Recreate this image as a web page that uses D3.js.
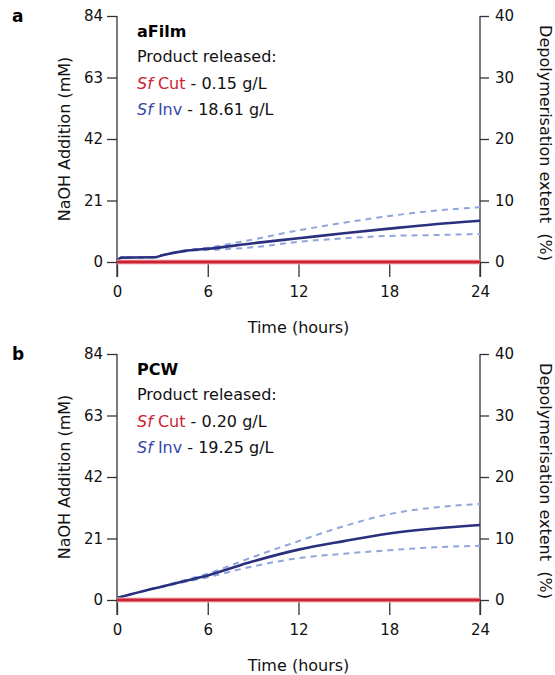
<!DOCTYPE html>
<html>
<head>
<meta charset="utf-8">
<script src="https://cdn.jsdelivr.net/npm/d3@7"></script>
<style>
  body { margin: 0; background: #fff; }
  text { font-family: "DejaVu Sans", Verdana, sans-serif; }
</style>
</head>
<body>
<svg id="chart" width="555" height="675"></svg>
<script>
// hours
var hours = [0, 0.3, 2.5, 3, 4.5, 6, 9, 12, 15, 18, 21, 24];

// aFilm, NaOH addition (mM)
var filmMean  = [0.4, 1.5, 1.6, 2.3, 3.8, 4.5, 6.4, 8.1, 9.8, 11.4, 12.9, 14.1];
var filmUpper = [0.4, 1.5, 1.6, 2.3, 3.9, 4.9, 7.7, 10.8, 13.4, 15.7, 17.5, 18.7];
var filmLower = [0.4, 1.5, 1.6, 2.3, 3.7, 4.1, 5.0, 6.9, 8.1, 8.9, 9.2, 9.6];

// PCW, NaOH addition (mM)
var pcwMean  = [0.7, 1.1, 4.0, 4.6, 6.5, 8.4, 13.2, 17.2, 20.1, 22.7, 24.4, 25.6];
var pcwUpper = [0.7, 1.1, 4.0, 4.7, 6.8, 9.0, 14.7, 20.1, 25.2, 29.3, 31.6, 32.8];
var pcwLower = [0.7, 1.1, 4.0, 4.5, 6.2, 7.8, 11.5, 14.3, 15.8, 17.0, 18.0, 18.5];

// Sf Cut released nothing measurable
var cutZero = hours.map(function () { return 0; });

var leftTicks = [0, 21, 42, 63, 84];
var rightTicks = [0, 10, 20, 30, 40];
var xTicks = [0, 6, 12, 18, 24];

var panels = [
  { letter: "a", name: "aFilm", cut: "0.15", inv: "18.61", top: 16,
    mean: filmMean, upper: filmUpper, lower: filmLower },
  { letter: "b", name: "PCW", cut: "0.20", inv: "19.25", top: 354,
    mean: pcwMean, upper: pcwUpper, lower: pcwLower }
];

var navy = "#2a2f7e", lightBlue = "#8ea6db", red = "#cc2233";
var left = 117, right = 480, h = 246;

var svg = d3.select("#chart");

var x = d3.scaleLinear().domain([0, 24]).range([left, right]);

panels.forEach(function (p) {
  var y = d3.scaleLinear().domain([0, 84]).range([p.top + h, p.top]);
  var yr = d3.scaleLinear().domain([0, 40]).range([p.top + h, p.top]);
  var g = svg.append("g");

  // x axis
  var xa = g.append("g")
    .attr("transform", "translate(0," + (p.top + h) + ")")
    .call(d3.axisBottom(x).tickValues(xTicks).tickSize(15).tickPadding(9));
  // left axis
  var ya = g.append("g")
    .attr("transform", "translate(" + left + ",0)")
    .call(d3.axisLeft(y).tickValues(leftTicks).tickSize(10).tickPadding(4));
  // right axis
  var yra = g.append("g")
    .attr("transform", "translate(" + right + ",0)")
    .call(d3.axisRight(yr).tickValues(rightTicks).tickSize(9).tickPadding(6));

  [xa, ya, yra].forEach(function (a) {
    a.select(".domain").attr("stroke", "#333").attr("stroke-width", 1.3);
    a.selectAll(".tick line").attr("stroke", "#333").attr("stroke-width", 1.3);
    a.selectAll(".tick text").attr("fill", "#111").style("font-size", "15px")
      .style("font-family", "DejaVu Sans, Verdana, sans-serif");
  });
  // vertical axes run down to the bottom of the x ticks
  ya.select(".domain").attr("d", "M0," + p.top + "V" + (p.top + h + 15));
  yra.select(".domain").attr("d", "M0," + p.top + "V" + (p.top + h + 15));
  xa.select(".domain").attr("d", "M" + left + ",0H" + right);

  var line = d3.line()
    .x(function (d, i) { return x(hours[i]); })
    .y(function (d) { return y(d); })
    .curve(d3.curveMonotoneX);

  [p.upper, p.lower].forEach(function (s) {
    g.append("path").datum(s).attr("d", line)
      .attr("fill", "none").attr("stroke", lightBlue)
      .attr("stroke-width", 2).attr("stroke-dasharray", "6,5");
  });
  g.append("path").datum(p.mean).attr("d", line)
    .attr("fill", "none").attr("stroke", navy).attr("stroke-width", 2.6);

  g.append("path").datum(cutZero).attr("d", line)
    .attr("fill", "none").attr("stroke", "#f3b8bd").attr("stroke-width", 5);
  g.append("path").datum(cutZero).attr("d", line)
    .attr("fill", "none").attr("stroke", red).attr("stroke-width", 3);

  // axis titles
  g.append("text")
    .attr("x", (left + right) / 2).attr("y", p.top + h + 71)
    .attr("text-anchor", "middle").style("font-size", "16px").attr("fill", "#111")
    .text("Time (hours)");
  g.append("text")
    .attr("transform", "translate(70," + (p.top + h / 2) + ") rotate(-90)")
    .attr("text-anchor", "middle").style("font-size", "16px").attr("fill", "#111")
    .text("NaOH Addition (mM)");
  g.append("text")
    .attr("transform", "translate(540," + (p.top + h / 2 + 4) + ") rotate(90)")
    .attr("text-anchor", "middle").style("font-size", "16px").attr("fill", "#111")
    .attr("xml:space", "preserve")
    .text("Depolymerisation extent  (%)");

  // panel letter
  g.append("text").attr("x", 12).attr("y", p.top + 6)
    .style("font-size", "17px").style("font-weight", "bold").text(p.letter);

  // annotation
  var tx = 137;
  g.append("text").attr("x", tx).attr("y", p.top + 21)
    .style("font-size", "16px").style("font-weight", "bold").text(p.name);
  g.append("text").attr("x", tx).attr("y", p.top + 46)
    .style("font-size", "16px").attr("fill", "#111").text("Product released:");
  var t1 = g.append("text").attr("x", tx).attr("y", p.top + 73).style("font-size", "16px");
  t1.append("tspan").attr("fill", red).style("font-style", "italic").text("Sf");
  t1.append("tspan").attr("fill", red).text(" Cut");
  t1.append("tspan").attr("fill", "#111").text(" - " + p.cut + " g/L");
  var t2 = g.append("text").attr("x", tx).attr("y", p.top + 99).style("font-size", "16px");
  t2.append("tspan").attr("fill", "#3a48a6").style("font-style", "italic").text("Sf");
  t2.append("tspan").attr("fill", "#3a48a6").text(" Inv");
  t2.append("tspan").attr("fill", "#111").text(" - " + p.inv + " g/L");
});
</script>
</body>
</html>
